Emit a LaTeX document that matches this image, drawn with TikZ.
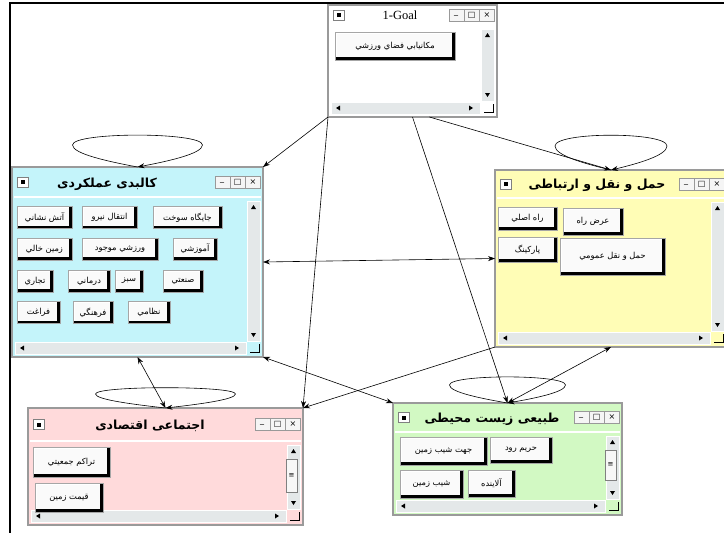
\documentclass[tikz,border=0pt]{standalone}
\usepackage{fontspec}
\setmainfont{Liberation Serif}
\newfontfamily\farsi[Script=Arabic]{DejaVu Sans}
\newfontfamily\ctlfont{DejaVu Sans}
\TeXXeTstate=1
\usetikzlibrary{arrows.meta,positioning,calc}
\definecolor{winCyan}{HTML}{C4F4FA}
\definecolor{winYellow}{HTML}{FFFDB6}
\definecolor{winPink}{HTML}{FFDADB}
\definecolor{winGreen}{HTML}{D2F9C3}
\definecolor{winEdge}{HTML}{9A9A9A}
\definecolor{scrollGray}{HTML}{E4E8E9}
\newcommand{\fa}[1]{{\beginR #1\endR}}

% title bar: system icon, min/max/close boxes
\newcommand{\winbar}[2]{%
  \node[sysicon] (#1-icon) at ($(#1.north west)+(11,#2/2)$) {\rule{4pt}{4pt}};
  \node[ctlbox] (#1-close) at ($(#1.north east)+(-10,#2/2)$) {×};
  \node[ctlbox,left=0pt of #1-close] (#1-max) {□};
  \node[ctlbox,left=0pt of #1-max] (#1-min) {\_};
  \draw[white,line width=1.2pt] ($(#1.north west)+(2,#2)$) -- ($(#1.north east)+(-2,#2)$);
}
% scroll bars
\newcommand{\winscroll}[2]{%
  \draw[scroll] ($(#1.north east)+(-16,#2+4)$) rectangle ($(#1.south east)+(-3,-16)$);
  \draw[scroll] ($(#1.south west)+(3,-15)$) rectangle ($(#1.south east)+(-17,-3)$);
  \fill ($(#1.north east)+(-9.5,#2+8)$) -- ++(-2.5,4) -- ++(5,0) -- cycle;
  \fill ($(#1.south east)+(-9.5,-20)$) -- ++(-2.5,-4) -- ++(5,0) -- cycle;
  \fill ($(#1.south west)+(8,-9)$) -- ++(4,-2.5) -- ++(0,5) -- cycle;
  \fill ($(#1.south east)+(-24,-9)$) -- ++(-4,-2.5) -- ++(0,5) -- cycle;
  \draw[line width=1pt] ($(#1.south east)+(-13,-5)$) -- ++(9,0) -- ++(0,-8);
}
% loop above a window
\newcommand{\selfloop}[3]{%
  \draw[link] (#1.north) .. controls +(-0.45*#2,-0.25*#3) and +(0,0.4*#3) .. ($(#1.north)+(-#2,-#3)$)
    .. controls +(0,-0.6*#3) and +(0,-0.6*#3) .. ($(#1.north)+(#2,-#3)$)
    .. controls +(0,0.4*#3) and +(0.45*#2,-0.25*#3) .. (#1.north);
}

\begin{document}
\begin{tikzpicture}[x=1pt,y=-1pt,
  win/.style={draw=winEdge,line width=1.4pt,inner sep=0pt,outer sep=0pt},
  wintitle/.style={font=\farsi\bfseries\fontsize{12.5}{14}\selectfont,inner sep=0pt},
  btn/.style={draw=gray!70,fill=gray!4,line width=0.5pt,inner sep=1pt,
    font=\farsi\fontsize{8.3}{9}\selectfont,
    path picture={\draw[line width=3pt,white] (path picture bounding box.south west) -- (path picture bounding box.north west) -- (path picture bounding box.north east);
      \draw[line width=5.5pt,black] (path picture bounding box.south west) -- (path picture bounding box.south east) -- (path picture bounding box.north east);}},
  sysicon/.style={draw=gray,fill=white,minimum width=11pt,minimum height=10pt,inner sep=0pt},
  ctlbox/.style={draw=gray!80,fill=white!92!gray,minimum width=15pt,minimum height=12pt,inner sep=0pt,font=\ctlfont\fontsize{8}{8}\selectfont},
  scroll/.style={draw=white,fill=scrollGray,line width=0.4pt},
  thumb/.style={draw=gray,fill=gray!6,minimum width=11pt,inner sep=0pt,font=\ctlfont\fontsize{7}{7}\selectfont},
  link/.style={-{Stealth[length=7pt,width=5pt]},line width=0.6pt},
  both/.style={{Stealth[length=7pt,width=5pt]}-{Stealth[length=7pt,width=5pt]},line width=0.6pt}]

\clip (0,0) rectangle (724,533);
\fill[white] (0,0) rectangle (724,533);
\draw[line width=2.5pt] (10,540) -- (10,3) -- (730,3);

% windows
\node[win,fill=white,minimum width=169pt,minimum height=112pt] (goal) at (412.5,61) {};
\node[win,fill=winCyan,minimum width=251pt,minimum height=190pt] (kalbadi) at (137.5,262) {};
\node[win,fill=winYellow,minimum width=232pt,minimum height=177pt] (haml) at (611,258.5) {};
\node[win,fill=winPink,minimum width=275pt,minimum height=117pt] (ejtemai) at (165.5,466.5) {};
\node[win,fill=winGreen,minimum width=229pt,minimum height=112pt] (tabiei) at (507.5,459) {};

\winbar{goal}{20}
\winbar{kalbadi}{30}
\winbar{haml}{28}
\winbar{ejtemai}{33}
\winbar{tabiei}{29}
\winscroll{goal}{20}
\winscroll{kalbadi}{30}
\winscroll{haml}{28}
\winscroll{ejtemai}{33}
\winscroll{tabiei}{29}
\node[thumb,minimum height=33pt] (ejtemai-thumb) at (291.5,476) {≡};
\node[thumb,minimum height=30pt] (tabiei-thumb) at (610.5,465) {≡};

% titles
\node[font=\fontsize{12.5}{14}\selectfont,inner sep=0pt] (goal-title) at (400,15) {1-Goal};
\node[wintitle] (kalbadi-title) at (107,184) {\fa{کالبدی عملکردی}};
\node[wintitle] (haml-title) at (597,185) {\fa{حمل و نقل و ارتباطی}};
\node[wintitle] (ejtemai-title) at (150,426) {\fa{اجتماعی اقتصادی}};
\node[wintitle] (tabiei-title) at (492,419) {\fa{طبیعی زیست محیطی}};

% buttons
\node[btn,minimum width=120pt,minimum height=28pt] (b-goal) at (395,46) {\fa{مكانيابي فضاي ورزشي}};

\node[btn,minimum width=55pt,minimum height=22pt] (b-atash) at (44.5,217.5) {\fa{آتش نشاني}};
\node[btn,minimum width=55pt,minimum height=22pt] (b-niru) at (109.5,217.5) {\fa{انتقال نيرو}};
\node[btn,minimum width=69pt,minimum height=22pt] (b-sukht) at (187.5,217.5) {\fa{جايگاه سوخت}};
\node[btn,minimum width=55pt,minimum height=22pt] (b-khali) at (44.5,249) {\fa{زمين خالي}};
\node[btn,minimum width=76pt,minimum height=22pt] (b-varzesh) at (120,249) {\fa{ورزشي موجود}};
\node[btn,minimum width=44pt,minimum height=22pt] (b-amuzesh) at (195,249) {\fa{آموزشي}};
\node[btn,minimum width=36pt,minimum height=22pt] (b-tejari) at (35,281) {\fa{تجاري}};
\node[btn,minimum width=42pt,minimum height=22pt] (b-darmani) at (89,281) {\fa{درماني}};
\node[btn,minimum width=28pt,minimum height=22pt] (b-sabz) at (129,281) {\fa{سبز}};
\node[btn,minimum width=40pt,minimum height=22pt] (b-sanati) at (183,281) {\fa{صنعتي}};
\node[btn,minimum width=43pt,minimum height=22pt] (b-faraghat) at (38.5,312.5) {\fa{فراغت}};
\node[btn,minimum width=40pt,minimum height=22pt] (b-farhangi) at (93,312.5) {\fa{فرهنگي}};
\node[btn,minimum width=42pt,minimum height=22pt] (b-nezami) at (149,312.5) {\fa{نظامي}};

\node[btn,minimum width=59pt,minimum height=23pt] (b-asli) at (527.5,218.5) {\fa{راه اصلي}};
\node[btn,minimum width=60pt,minimum height=27pt] (b-arz) at (593,221.5) {\fa{عرض راه}};
\node[btn,minimum width=59pt,minimum height=25pt] (b-parking) at (527.5,249.5) {\fa{پاركينگ}};
\node[btn,minimum width=105pt,minimum height=37pt] (b-omumi) at (612.5,256.5) {\fa{حمل و نقل عمومي}};

\node[btn,minimum width=77pt,minimum height=30pt] (b-tarakom) at (71.5,462) {\fa{تراكم جمعيتي}};
\node[btn,minimum width=68pt,minimum height=29pt] (b-gheimat) at (69,497.5) {\fa{قيمت زمين}};

\node[btn,minimum width=87pt,minimum height=28pt] (b-jahat) at (443.5,451) {\fa{جهت شيب زمين}};
\node[btn,minimum width=62pt,minimum height=26pt] (b-harim) at (521,450) {\fa{حريم رود}};
\node[btn,minimum width=63pt,minimum height=28pt] (b-shib) at (431.5,484) {\fa{شيب زمين}};
\node[btn,minimum width=47pt,minimum height=27pt] (b-alayande) at (491.5,483.5) {\fa{آلاينده}};

% links
\draw[link] (goal.south west) -- (kalbadi.north east);
\draw[link] ($(goal.south)!0.2!(goal.south east)$) -- (haml.north);
\draw[link] (goal.south west) -- (ejtemai.north east);
\draw[link] (goal.south) -- (tabiei.north);
\draw[both] (kalbadi.east) -- (haml.west);
\draw[both] (kalbadi.south east) -- (tabiei.north west);
\draw[link] (haml.south west) -- (ejtemai.north east);
\draw[both] (haml.south) -- (tabiei.north);
\draw[both] (kalbadi.south) -- (ejtemai.north);

\selfloop{kalbadi}{65}{22}
\selfloop{haml}{56}{24}
\selfloop{ejtemai}{70}{14}
\selfloop{tabiei}{58}{18}
\end{tikzpicture}
\end{document}
